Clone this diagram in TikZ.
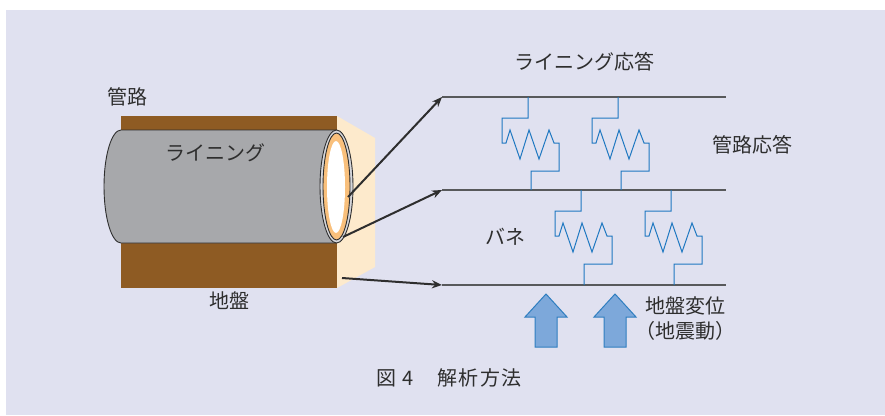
\documentclass[tikz,border=0pt]{standalone}
\usepackage{fontspec}
\setmainfont{Noto Sans CJK JP}
\newfontfamily\capfont[LetterSpace=8]{Noto Sans CJK JP}
\usetikzlibrary{arrows.meta}
\definecolor{bgLav}{HTML}{E0E1F0}
\definecolor{inkGray}{HTML}{2E2E2E}
\definecolor{soilBrown}{HTML}{8E5B23}
\definecolor{soilSide}{HTML}{FDEACC}
\definecolor{pipeGray}{HTML}{A7A8AB}
\definecolor{ringGray}{HTML}{D5D6DA}
\definecolor{liningOrange}{HTML}{F9C07C}
\definecolor{lineGray}{HTML}{58595B}
\definecolor{springBlue}{HTML}{1F78C1}
\definecolor{pushFill}{HTML}{7DA8DA}
\definecolor{pushEdge}{HTML}{2F7EC0}
\tikzset{
  txt/.style={text=inkGray, font=\fontsize{20}{25}\selectfont, inner sep=0pt},
  beam/.style={draw=lineGray, line width=1.3pt},
  spring/.style={draw=springBlue, line width=1pt, line join=miter},
  arrowK/.style={-{Stealth[length=10pt, width=8pt]}, inkGray, line width=2pt},
  pushArrow/.style={draw=pushEdge, fill=pushFill, line width=1pt},
  outline/.style={draw=inkGray, line width=0.9pt},
}
% one spring unit hanging from (#1,#2) down to the beam at height #3
\newcommand\springunit[3]{%
  \draw[spring] (#1,#2) -- ++(0,21) -- ++(-26,0) -- ++(0,25) -- ++(4,0)
    -- ++(4,-13) -- ++(10,29) -- ++(9,-29) -- ++(10,29) -- ++(10,-29)
    -- ++(5,13) -- ++(5,0) -- ++(0,28) -- ++(-28,0) -- (#1+3,#3);
}

\begin{document}
\begin{tikzpicture}[x=1pt, y=-1pt]
  \useasboundingbox (0,0) rectangle (885,415);
  \fill[bgLav] (6,10) rectangle (885,415);

  % soil block and its side face
  \fill[soilBrown] (121,116) rectangle (337,288);
  \fill[soilSide] (337,116) -- (375,138) -- (375,267) -- (337,288) -- cycle;

  % pipe body and cut end
  \filldraw[outline, fill=pipeGray] (337,130) -- (121,130)
    arc (270:90:17 and 56.5) -- (337,243);
  \coordinate (endC) at (336.5,186.5);
  \filldraw[outline, fill=ringGray] (endC) ellipse (16.5 and 56.5);
  \filldraw[outline, fill=liningOrange] (endC) ellipse (13.5 and 53.5);
  \fill[white] (336,187) ellipse (9 and 46);

  % response beams
  \coordinate (upL) at (442,97);   \coordinate (upR) at (726,97);
  \coordinate (midL) at (442,190); \coordinate (midR) at (726,190);
  \coordinate (lowL) at (442,285); \coordinate (lowR) at (726,285);
  \draw[beam] (upL) -- (upR);
  \draw[beam] (midL) -- (midR);
  \draw[beam] (lowL) -- (lowR);

  % leaders from the pipe section
  \coordinate (liningPt) at (348,197);
  \coordinate (pipePt) at (343,237);
  \coordinate (soilPt) at (342,278);
  \draw[arrowK] (liningPt) -- (upL);
  \draw[arrowK] (pipePt) -- (midL);
  \draw[arrowK] (soilPt) -- (lowL);

  % springs
  \springunit{528}{97}{190}
  \springunit{618}{97}{190}
  \springunit{581}{190}{285}
  \springunit{671}{190}{285}

  % ground push
  \foreach \x in {546,615}
    \draw[pushArrow] (\x-11,347) -- (\x-11,317) -- (\x-21,317) -- (\x,294)
      -- (\x+21,317) -- (\x+11,317) -- (\x+11,347) -- cycle;

  % labels
  \node[txt] (pipeLbl) at (127,97) {管路};
  \node[txt] (liningLbl) at (215,153) {ライニング};
  \node[txt] (soilLbl) at (229,301) {地盤};
  \node[txt] (liningResp) at (584,62) {ライニング応答};
  \node[txt] (pipeResp) at (752,145) {管路応答};
  \node[txt] (springLbl) at (505,237) {バネ};
  \node[txt, align=center] (soilDisp) at (685,319) {地盤変位\\（地震動）};
  \node[txt, font=\capfont\fontsize{20}{24}\selectfont] (caption) at (449,378)
    {図 4\hspace{1.2em}解析方法};
\end{tikzpicture}
\end{document}
